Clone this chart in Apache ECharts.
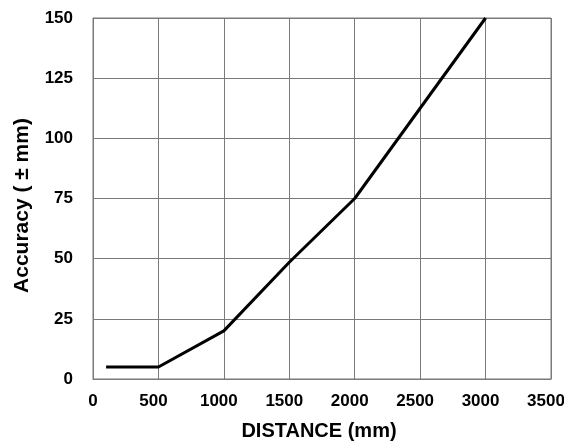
<!DOCTYPE html>
<html>
<head>
<meta charset="utf-8">
<script src="https://cdn.jsdelivr.net/npm/echarts@6/dist/echarts.min.js"></script>
<style>
html,body{margin:0;padding:0;background:#fff;}
#chart{width:564px;height:445px;}
</style>
</head>
<body>
<div id="chart"></div>
<script>
const distance = [100, 500, 1000, 1500, 2000, 2500, 3000];
const accuracy = [5, 5, 20, 48.5, 75, 112.5, 150];
const xTitle = 'DISTANCE (mm)';
const yTitle = 'Accuracy ( \u00B1 mm)';

const FONT = '"Liberation Sans Narrow", "Arial Narrow", "Liberation Sans", Arial, sans-serif';
const gridColor = '#7a7a7a';
const labelFont = {fontFamily: FONT, fontWeight: 'bold', fontSize: 17, color: '#000'};

const chart = echarts.init(document.getElementById('chart'));
chart.setOption({
  animation: false,
  backgroundColor: '#fff',
  grid: {left: 93, right: 13, top: 18, bottom: 66, show: true, borderColor: gridColor, borderWidth: 1,
         containLabel: false, outerBoundsMode: 'none'},
  xAxis: {
    type: 'value', min: 0, max: 3500, interval: 500,
    name: xTitle, nameLocation: 'middle', nameGap: 42,
    nameTextStyle: {fontFamily: FONT, fontWeight: 'bold', fontSize: 20, color: '#000', padding: [0, 6, 0, 0]},
    axisLine: {show: true, lineStyle: {color: gridColor, width: 1}},
    axisTick: {show: false},
    axisLabel: Object.assign({}, labelFont, {
      margin: 14,
      formatter: v => v === 0 ? '{z|0}' : '{n|' + v + '}',
      rich: {
        z: Object.assign({}, labelFont),
        n: Object.assign({}, labelFont, {padding: [0, 10, 0, 0]})
      }
    }),
    splitLine: {show: true, lineStyle: {color: gridColor, width: 1}}
  },
  yAxis: {
    type: 'value', min: 0, max: 150, interval: 25,
    name: yTitle, nameLocation: 'middle', nameGap: 60, nameRotate: 90,
    nameTextStyle: {fontFamily: FONT, fontWeight: 'bold', fontSize: 21, color: '#000', padding: [0, 14, 0, 0]},
    axisLine: {show: true, lineStyle: {color: gridColor, width: 1}},
    axisTick: {show: false},
    axisLabel: Object.assign({}, labelFont, {margin: 20, formatter: v => String(v)}),
    splitLine: {show: true, lineStyle: {color: gridColor, width: 1}}
  },
  series: [{
    type: 'line',
    data: distance.map((d, i) => [d, accuracy[i]]),
    symbol: 'none',
    lineStyle: {color: '#000', width: 3},
    clip: false
  }]
});
</script>
</body>
</html>
